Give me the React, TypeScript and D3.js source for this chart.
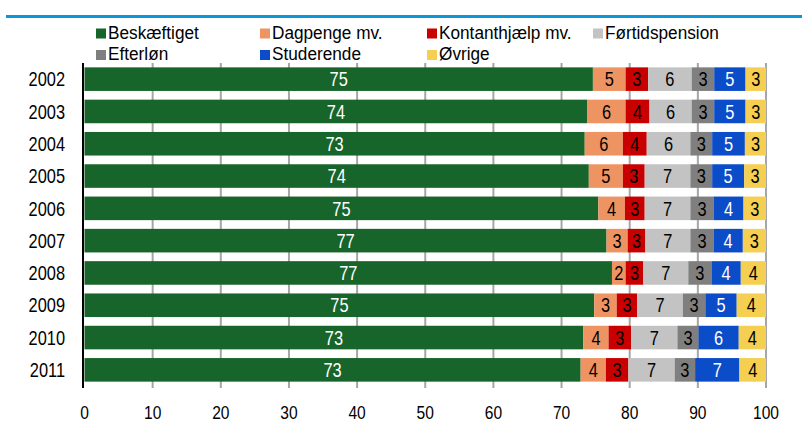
import React from 'react';
import * as d3 from 'd3';

// Years on the y axis (top to bottom)
const years = ['2002', '2003', '2004', '2005', '2006', '2007', '2008', '2009', '2010', '2011'];

const categories = ['Beskæftiget', 'Dagpenge mv.', 'Kontanthjælp mv.', 'Førtidspension', 'Efterløn', 'Studerende', 'Øvrige'];

// shares in pct
const beskaeftiget = [74.6, 73.8, 73.4, 74.0, 75.4, 76.6, 77.4, 74.8, 73.2, 72.8];
const dagpenge = [4.8, 5.6, 5.6, 5.0, 3.9, 3.1, 2.0, 3.3, 3.7, 3.7];
const kontanthjaelp = [3.3, 3.5, 3.5, 3.2, 2.9, 2.6, 2.6, 3.0, 3.3, 3.3];
const foertidspension = [6.4, 6.2, 6.4, 6.7, 6.7, 6.6, 6.6, 6.7, 6.8, 6.8];
const efterloen = [3.3, 3.3, 3.2, 3.2, 3.4, 3.4, 3.4, 3.3, 3.1, 3.0];
const studerende = [4.6, 4.6, 4.8, 4.7, 4.4, 4.3, 4.3, 4.6, 5.9, 6.5];
const oevrige = [3.0, 3.0, 3.1, 3.2, 3.3, 3.4, 3.7, 4.3, 4.0, 3.9];

const xTicks = [0, 10, 20, 30, 40, 50, 60, 70, 80, 90, 100];

const seriesValues = [beskaeftiget, dagpenge, kontanthjaelp, foertidspension, efterloen, studerende, oevrige];
const colors = ['#17652A', '#EE9463', '#C80000', '#C3C3C3', '#7F7F7F', '#0B4CC9', '#F4CF52'];
const textColors = ['#fff', '#000', '#000', '#000', '#000', '#fff', '#000'];

const FONT = '"Liberation Sans", Arial, sans-serif';

// no narrow font installed, so squeeze Liberation Sans horizontally
const NText: React.FC<{ x: number; y: number; size: number; sx?: number; anchor?: string; fill?: string; children: React.ReactNode }> =
    ({ x, y, size, sx = 0.82, anchor = 'start', fill = '#000', children }) => (
        <text transform={`translate(${x},${y}) scale(${sx},1)`} fontSize={size} textAnchor={anchor} fill={fill}>{children}</text>
    );

const App: React.FC = () => {
    const width = 802;
    const height = 424;

    const x = d3.scaleLinear().domain([0, 100]).range([84.5, 766]);
    const y = d3.scaleBand<string>()
        .domain(years)
        .range([63, 386])
        .paddingInner(0.27)
        .paddingOuter(0.135);

    // build rows for the stack
    const rows = years.map((yr, i) => {
        const row: Record<string, number | string> = { year: yr };
        categories.forEach((c, k) => { row[c] = seriesValues[k][i]; });
        return row;
    });
    const stacked = d3.stack<Record<string, number | string>>().keys(categories)(rows);

    // legend layout: two rows, four columns
    const legendCols = [96, 260, 427, 593];
    const legendRows = [38.5, 60];

    return (
        <svg width={width} height={height} style={{ position: 'absolute', left: 0, top: 0 }} fontFamily={FONT}>
            <line x1={6} x2={802} y1={16.5} y2={16.5} stroke="#0A96D8" strokeWidth={3} />

            {/* legend */}
            {categories.map((c, k) => {
                const lx = legendCols[k % 4];
                const ly = legendRows[Math.floor(k / 4)];
                return (
                    <g key={c}>
                        <rect x={lx} y={ly - 10} width={10} height={10} fill={colors[k]} />
                        <NText x={lx + 12} y={ly} size={18.5} sx={0.93}>{c}</NText>
                    </g>
                );
            })}

            {/* gridlines */}
            {xTicks.slice(1).map(t => (
                <line key={t} x1={x(t)} x2={x(t)} y1={63} y2={388} stroke="#A6A6A6" strokeWidth={2} />
            ))}

            {/* bars */}
            {stacked.map((s, k) => (
                <g key={s.key}>
                    {s.map((d, i) => {
                        const x0 = x(d[0]);
                        const x1 = x(d[1]);
                        const yy = y(years[i]) ?? 0;
                        const v = seriesValues[k][i];
                        return (
                            <g key={i}>
                                <rect x={x0} y={yy} width={x1 - x0} height={y.bandwidth()} fill={colors[k]} />
                                <NText x={(x0 + x1) / 2} y={yy + y.bandwidth() / 2 + 7.2} size={20} anchor="middle" fill={textColors[k]}>
                                    {Math.round(v)}
                                </NText>
                            </g>
                        );
                    })}
                </g>
            ))}

            {/* y axis */}
            <line x1={83} x2={83} y1={63} y2={388} stroke="#000" strokeWidth={2} />
            {years.map(yr => (
                <NText key={yr} x={65} y={(y(yr) ?? 0) + y.bandwidth() / 2 + 7.2} size={20} anchor="end">{yr}</NText>
            ))}

            {/* x tick labels */}
            {xTicks.map(t => (
                <NText key={t} x={x(t)} y={419} size={19} anchor="middle">{t}</NText>
            ))}
        </svg>
    );
};

export default App;
